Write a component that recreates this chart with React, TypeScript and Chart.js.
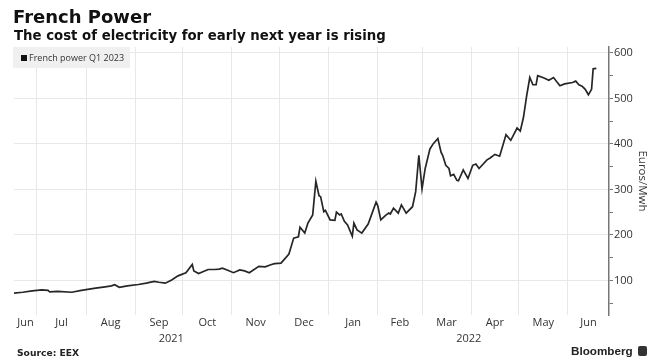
import React, { useEffect, useRef } from 'react';
import { Chart, registerables } from 'chart.js';

Chart.register(...registerables);

// ---- data ----
const dates: string[] = [
  '2021-06-16', '2021-06-22', '2021-06-28', '2021-07-04', '2021-07-08', '2021-07-09', '2021-07-14', '2021-07-23',
  '2021-07-29', '2021-08-07', '2021-08-13', '2021-08-17', '2021-08-19', '2021-08-22', '2021-08-27', '2021-09-03',
  '2021-09-08', '2021-09-13', '2021-09-16', '2021-09-20', '2021-09-24', '2021-09-28', '2021-10-03', '2021-10-07',
  '2021-10-08', '2021-10-11', '2021-10-17', '2021-10-21', '2021-10-24', '2021-10-26', '2021-10-29', '2021-11-02',
  '2021-11-06', '2021-11-09', '2021-11-12', '2021-11-18', '2021-11-22', '2021-11-26', '2021-11-28', '2021-12-02',
  '2021-12-07', '2021-12-10', '2021-12-13', '2021-12-14', '2021-12-17', '2021-12-19', '2021-12-22', '2021-12-24',
  '2021-12-26', '2021-12-27', '2021-12-29', '2021-12-30', '2022-01-02', '2022-01-05', '2022-01-06', '2022-01-08',
  '2022-01-09', '2022-01-11', '2022-01-13', '2022-01-16', '2022-01-17', '2022-01-19', '2022-01-22', '2022-01-26',
  '2022-01-28', '2022-01-31', '2022-02-01', '2022-02-03', '2022-02-06', '2022-02-08', '2022-02-09', '2022-02-11',
  '2022-02-14', '2022-02-16', '2022-02-19', '2022-02-23', '2022-02-25', '2022-02-27', '2022-03-01', '2022-03-03',
  '2022-03-06', '2022-03-08', '2022-03-11', '2022-03-13', '2022-03-14', '2022-03-16', '2022-03-18', '2022-03-19',
  '2022-03-21', '2022-03-23', '2022-03-24', '2022-03-27', '2022-03-30', '2022-04-02', '2022-04-04', '2022-04-06',
  '2022-04-11', '2022-04-13', '2022-04-16', '2022-04-19', '2022-04-23', '2022-04-26', '2022-04-30', '2022-05-02',
  '2022-05-04', '2022-05-06', '2022-05-08', '2022-05-10', '2022-05-12', '2022-05-13', '2022-05-17', '2022-05-20',
  '2022-05-23', '2022-05-27', '2022-05-30', '2022-06-04', '2022-06-06', '2022-06-08', '2022-06-10', '2022-06-12',
  '2022-06-14', '2022-06-16', '2022-06-17', '2022-06-19',
];

const prices: number[] = [
  72, 74, 77, 79, 78, 75, 76, 74,
  78, 83, 86, 88, 90.5, 85, 88, 91,
  94, 98, 96, 94, 101, 110, 117, 135,
  121, 115, 124, 124, 125, 127, 123, 117,
  123, 121, 117, 131, 130, 135, 137, 138,
  158, 193, 196, 217, 204, 226, 244, 318,
  286, 284, 251, 254, 233, 232, 250, 244,
  246, 230, 222, 197, 226, 211, 204, 224,
  243, 272, 265, 233, 243, 248, 246, 259,
  248, 266, 248, 262, 295, 375, 301, 346,
  389, 400, 412, 382, 375, 353, 346, 330,
  333, 320, 319, 343, 324, 353, 356, 346,
  365, 369, 377, 373, 420, 408, 435, 428,
  458, 505, 546, 530, 530, 550, 545, 540,
  546, 528, 532, 535, 538, 530, 527, 520,
  508, 520, 565, 566,
];

const seriesName = 'French power Q1 2023';
const monthLabels: string[] = ['Jun', 'Jul', 'Aug', 'Sep', 'Oct', 'Nov', 'Dec', 'Jan', 'Feb', 'Mar', 'Apr', 'May', 'Jun'];
const monthStarts: string[] = [
  '2021-06-01', '2021-07-01', '2021-08-01', '2021-09-01', '2021-10-01', '2021-11-01', '2021-12-01',
  '2022-01-01', '2022-02-01', '2022-03-01', '2022-04-01', '2022-05-01', '2022-06-01', '2022-07-01',
];
const yearLabels: string[] = ['2021', '2022'];
const yearStarts: string[] = ['2021-01-01', '2022-01-01', '2023-01-01'];
const yTickValues: number[] = [50, 100, 150, 200, 250, 300, 350, 400, 450, 500, 550, 600];
const xMinDate = '2021-06-16';
const xMaxDate = '2022-06-27';
const yMin = 24;
const yMax = 613;

// ---- helpers ----
const BASE = Date.UTC(2021, 6, 1);
function toDay(s: string): number {
  const [y, m, d] = s.split('-').map(Number);
  return (Date.UTC(y, m - 1, d) - BASE) / 86400000;
}
const xMin = toDay(xMinDate) + 0.5;
const xMax = toDay(xMaxDate);

function centers(starts: string[]): number[] {
  const out: number[] = [];
  for (let i = 0; i < starts.length - 1; i++) {
    const a = Math.max(toDay(starts[i]), xMin);
    const b = Math.min(toDay(starts[i + 1]), xMax);
    out.push((a + b) / 2);
  }
  return out;
}

const tickFont = { family: "'Open Sans', sans-serif", size: 11 };

export default function App() {
  const ref = useRef<HTMLCanvasElement | null>(null);

  useEffect(() => {
    if (!ref.current) return;
    const monthCenters = centers(monthStarts);
    const yearCenters = centers(yearStarts);
    const gridDays = monthStarts.map(toDay).filter((d) => d > xMin && d < xMax);

    const chart = new Chart(ref.current, {
      type: 'line',
      data: {
        datasets: [
          {
            label: seriesName,
            data: dates.map((d, i) => ({ x: toDay(d), y: prices[i] })),
            borderColor: '#262626',
            borderWidth: 1.7,
            pointRadius: 0,
            tension: 0,
            fill: false,
          },
        ],
      },
      options: {
        responsive: false,
        animation: false,
        devicePixelRatio: 1,
        layout: { padding: { top: 47, left: 14, right: 0, bottom: 12.6 } },
        plugins: {
          legend: { display: false },
          tooltip: { enabled: false },
        },
        scales: {
          x: {
            type: 'linear',
            position: 'bottom',
            min: xMin,
            max: xMax,
            weight: 0,
            grid: { color: '#e8e8e8', lineWidth: 1, drawTicks: false },
            border: { display: false },
            ticks: { display: false },
            afterBuildTicks: (s: any) => {
              s.ticks = gridDays.map((v) => ({ value: v }));
            },
          },
          xm: {
            type: 'linear',
            position: 'bottom',
            min: xMin,
            max: xMax,
            weight: 1,
            grid: { display: false, drawTicks: false },
            border: { display: false },
            ticks: {
              autoSkip: false,
              maxRotation: 0,
              padding: 1,
              color: '#333',
              font: tickFont,
              callback: (_v: any, i: number) => monthLabels[i],
            },
            afterBuildTicks: (s: any) => {
              s.ticks = monthCenters.map((v) => ({ value: v }));
            },
          },
          xy: {
            type: 'linear',
            position: 'bottom',
            min: xMin,
            max: xMax,
            weight: 2,
            grid: { display: false, drawTicks: false },
            border: { display: false },
            ticks: {
              autoSkip: false,
              maxRotation: 0,
              padding: 2,
              color: '#333',
              font: tickFont,
              callback: (_v: any, i: number) => yearLabels[i],
            },
            afterBuildTicks: (s: any) => {
              s.ticks = yearCenters.map((v) => ({ value: v }));
            },
          },
          y: {
            type: 'linear',
            position: 'right',
            min: yMin,
            max: yMax,
            grid: {
              color: (ctx: any) => (ctx.tick && ctx.tick.value % 100 === 0 ? '#e8e8e8' : 'rgba(0,0,0,0)'),
              tickColor: '#777',
              tickLength: 4,
              drawTicks: true,
            },
            border: { display: true, color: '#777', width: 1.5 },
            ticks: {
              autoSkip: false,
              padding: 1,
              color: '#333',
              font: tickFont,
              callback: (v: any) => (Number(v) % 100 === 0 ? String(v) : ''),
            },
            afterBuildTicks: (s: any) => {
              s.ticks = yTickValues.map((v) => ({ value: v }));
            },
            afterFit: (s: any) => {
              s.width = 47;
            },
            title: {
              display: true,
              text: 'Euros/Mwh',
              color: '#333',
              font: { family: "'Open Sans', sans-serif", size: 11.5 },
              padding: { top: 7, bottom: 0 },
            },
          },
        },
      } as any,
    });
    return () => chart.destroy();
  }, []);

  return (
    <div style={{ position: 'absolute', left: 0, top: 0, width: 656, height: 360, background: '#fff', overflow: 'hidden' }}>
      <canvas ref={ref} width={656} height={360} style={{ position: 'absolute', left: 0, top: 0, width: 656, height: 360 }} />
      <div
        style={{
          position: 'absolute', left: 13, top: 7.8, fontFamily: "'DejaVu Sans', sans-serif", fontWeight: 'bold',
          fontSize: 18, lineHeight: '18px', color: '#111', whiteSpace: 'nowrap',
        }}
      >
        French Power
      </div>
      <div
        style={{
          position: 'absolute', left: 14, top: 29.3, fontFamily: "'DejaVu Sans', sans-serif", fontWeight: 'bold',
          fontSize: 13.3, lineHeight: '13.3px', color: '#111', whiteSpace: 'nowrap',
        }}
      >
        The cost of electricity for early next year is rising
      </div>
      <div
        style={{
          position: 'absolute', left: 13, top: 47, width: 117, height: 21, background: '#f0f0f0',
          display: 'flex', alignItems: 'center', boxSizing: 'border-box', paddingLeft: 8,
        }}
      >
        <span style={{ display: 'inline-block', width: 6, height: 6, background: '#111', marginRight: 2 }} />
        <span style={{ fontFamily: "'Open Sans', sans-serif", fontSize: 9, color: '#333', whiteSpace: 'nowrap' }}>
          {seriesName}
        </span>
      </div>
      <div
        style={{
          position: 'absolute', left: 17, top: 346.5, fontFamily: "'DejaVu Sans', sans-serif", fontWeight: 'bold',
          fontSize: 9.2, lineHeight: '11px', color: '#222', whiteSpace: 'nowrap',
        }}
      >
        Source: EEX
      </div>
      <div
        style={{
          position: 'absolute', left: 571, top: 344, fontFamily: "'Liberation Sans', Arial, sans-serif", fontWeight: 'bold',
          fontSize: 11.7, lineHeight: '14px', color: '#222', whiteSpace: 'nowrap',
        }}
      >
        Bloomberg
      </div>
      <div style={{ position: 'absolute', left: 638, top: 346, width: 9, height: 10, background: '#333', borderRadius: 2 }} />
    </div>
  );
}
